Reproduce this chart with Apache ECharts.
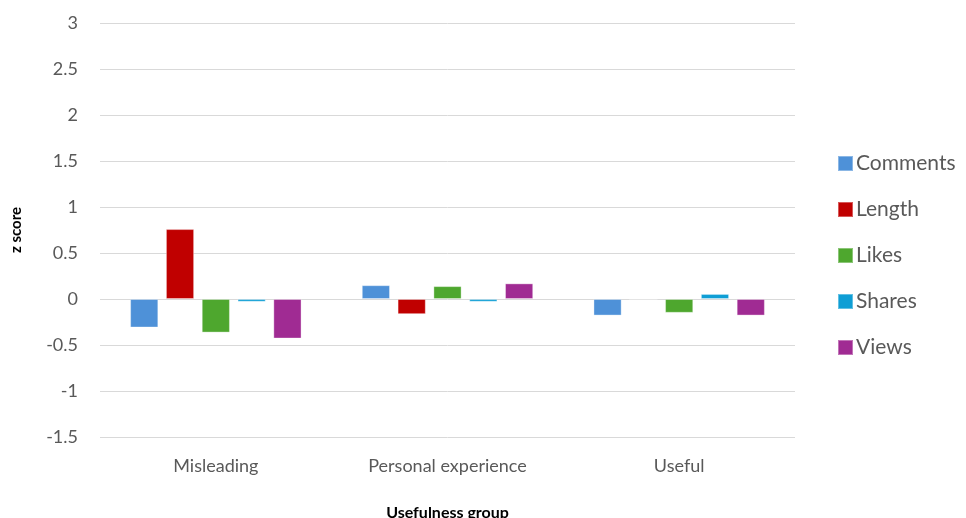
<!DOCTYPE html>
<html><head><meta charset="utf-8">
<script src="https://cdn.jsdelivr.net/npm/echarts@6/dist/echarts.min.js"></script>
<style>html,body{margin:0;padding:0;background:#fff}#c{width:966px;height:518px}</style>
</head><body><div id="c"></div>
<script>
var categories = ['Misleading', 'Personal experience', 'Useful'];
var seriesNames = ['Comments', 'Length', 'Likes', 'Shares', 'Views'];
var comments = [-0.31, 0.15, -0.18];
var length = [0.76, -0.165, 0];
var likes = [-0.365, 0.14, -0.15];
var shares = [-0.03, -0.03, 0.055];
var views = [-0.43, 0.17, -0.18];
var yTicks = [-1.5, 3, 0.5];
var colors = ['#4E91D8', '#C00000', '#4EA72E', '#0F9ED5', '#A02B93'];
var values = [comments, length, likes, shares, views];

var chart = echarts.init(document.getElementById('c'), null, {renderer: 'canvas'});
var font = 'Lato, "Noto Sans", sans-serif';
chart.setOption({
  animation: false,
  color: colors,
  grid: {left: 100, right: 171, top: 23, bottom: 81, containLabel: false, outerBoundsMode: 'none'},
  legend: {
    orient: 'vertical', left: 832, top: 148, itemWidth: 15, itemHeight: 15, itemGap: 25,
    icon: 'rect',
    textStyle: {fontFamily: font, fontSize: 21, color: '#595959', padding: [0,0,0,-2]},
    data: seriesNames
  },
  xAxis: {
    type: 'category', data: categories,
    name: 'Usefulness group', nameLocation: 'middle', nameGap: 68,
    nameTextStyle: {fontFamily: font, fontSize: 16, fontWeight: 'bold', color: '#000'},
    axisLine: {show: false, onZero: false}, axisTick: {show: false},
    axisLabel: {fontFamily: font, fontSize: 18, color: '#595959', margin: 20}
  },
  yAxis: {
    type: 'value', min: yTicks[0], max: yTicks[1], interval: yTicks[2],
    name: 'z score', nameLocation: 'middle', nameGap: 76, nameRotate: 90,
    nameTextStyle: {fontFamily: font, fontSize: 15, fontWeight: 'bold', color: '#000'},
    axisLine: {show: false}, axisTick: {show: false},
    axisLabel: {fontFamily: font, fontSize: 18, color: '#595959', margin: 22},
    splitLine: {lineStyle: {color: '#d9d9d9', width: 1}}
  },
  series: seriesNames.map(function (n, i) {
    return {
      name: n, type: 'bar', data: values[i],
      barGap: '27%', barCategoryGap: '26%',
      itemStyle: {color: colors[i], borderColor: 'rgba(255,255,255,0.35)', borderWidth: 1}
    };
  })
});
</script></body></html>
